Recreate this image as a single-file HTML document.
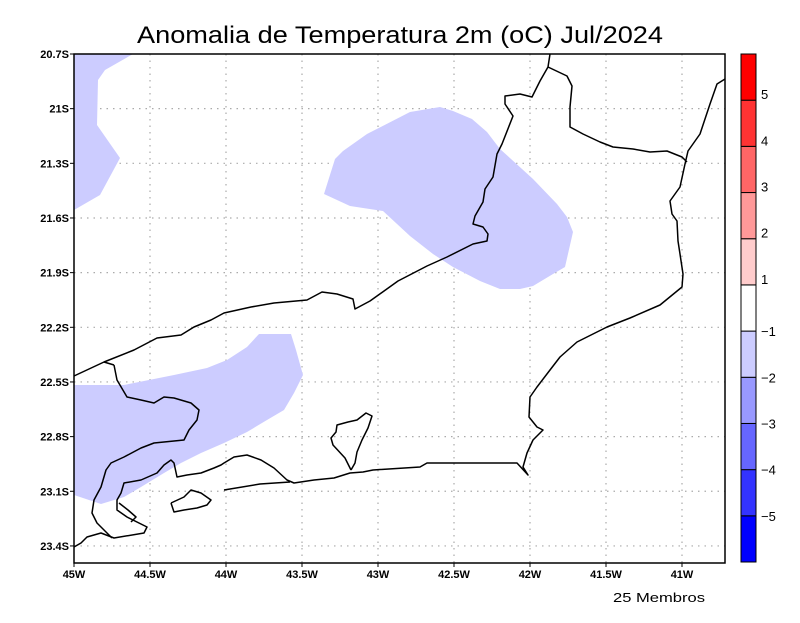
<!DOCTYPE html>
<html><head><meta charset="utf-8"><style>
body{margin:0;background:#fff;width:800px;height:618px;overflow:hidden}
svg text{font-family:"Liberation Sans",sans-serif}
</style></head><body>
<svg id="chart" width="800" height="618" viewBox="0 0 800 618" xmlns="http://www.w3.org/2000/svg">
<text x="400" y="43" text-anchor="middle" font-size="24" textLength="526" lengthAdjust="spacingAndGlyphs" fill="#000">Anomalia de Temperatura 2m (oC) Jul/2024</text>
<text x="613" y="602" font-size="13" textLength="92" lengthAdjust="spacingAndGlyphs" fill="#000">25 Membros</text>
<g id="grid"></g><g id="shade"></g><g id="coast"></g><g id="axes"></g><g id="cbar"></g>
</svg>
<script>
const lonTicks=[-45,-44.5,-44,-43.5,-43,-42.5,-42,-41.5,-41];
const lonLabels=["45W","44.5W","44W","43.5W","43W","42.5W","42W","41.5W","41W"];
const latTicks=[-20.7,-21,-21.3,-21.6,-21.9,-22.2,-22.5,-22.8,-23.1,-23.4];
const latLabels=["20.7S","21S","21.3S","21.6S","21.9S","22.2S","22.5S","22.8S","23.1S","23.4S"];
const cbarColors=["#0000ff","#3333ff","#6666ff","#9999ff","#ccccff","#ffffff","#ffcccc","#ff9999","#ff6666","#ff3333","#ff0000"];
const cbarLabels=["-5","-4","-3","-2","-1","1","2","3","4","5"];
const shadeColor="#ccccff";
// anomaly < -1 regions (pixel-traced contours of the map)
const regionA=[[74,54],[133,54],[105,70],[98,80],[97,125],[120,158],[100,195],[74,210]];
const regionB=[[324,194],[335,159],[343,151],[367,134],[410,112],[440,107],[453,111],[472,119],[487,132],[500,149],[533,179],[557,204],[567,217],[573,232],[565,267],[553,274],[533,286],[520,289],[500,289],[480,281],[453,267],[433,254],[410,236],[383,211],[350,206]];
const regionC=[[74,385],[124,385],[174,375],[207,368],[227,360],[247,347],[259,334],[291,334],[296,350],[303,375],[294,393],[284,410],[267,420],[247,432],[224,443],[201,453],[181,463],[164,473],[141,487],[124,497],[101,504],[74,495]];

const X0=74,X1=725,Y0=54,Y1=563;
const xS=lon=>X0+(lon+45)*152;
const yS=lat=>Y0+(-20.7-lat)*182.2;
const NS="http://www.w3.org/2000/svg";
function mk(tag,attrs,parent){const e=document.createElementNS(NS,tag);for(const k in attrs)e.setAttribute(k,attrs[k]);parent.appendChild(e);return e;}
const grid=document.getElementById('grid'),axes=document.getElementById('axes'),shade=document.getElementById('shade'),coast=document.getElementById('coast'),cbar=document.getElementById('cbar');

[regionA,regionB,regionC].forEach((r,i)=>{
 const p=mk('polygon',{points:r.map(q=>q.join(',')).join(' '),fill:shadeColor},shade);
 
 
});

lonTicks.forEach((v,i)=>{
 const x=xS(v);
 if(i>0){const g=mk('line',{x1:x,y1:Y0,x2:x,y2:Y1,stroke:'#aaa','stroke-width':1.2,'stroke-dasharray':'1.5,5'},grid);
 }
 mk('line',{x1:x,y1:Y1,x2:x,y2:Y1+4,stroke:'#000','stroke-width':1},axes);
 const t=mk('text',{x:x,y:Y1+15,'text-anchor':'middle','font-size':11,'font-weight':'bold'},axes);t.textContent=lonLabels[i];
 
});
latTicks.forEach((v,i)=>{
 const y=yS(v);
 if(i>0){const g=mk('line',{x1:X0,y1:y,x2:X1,y2:y,stroke:'#aaa','stroke-width':1.2,'stroke-dasharray':'1.5,5'},grid);
 }
 mk('line',{x1:X0-4,y1:y,x2:X0,y2:y,stroke:'#000','stroke-width':1},axes);
 const t=mk('text',{x:X0-5,y:y+4,'text-anchor':'end','font-size':11,'font-weight':'bold'},axes);t.textContent=latLabels[i];
 
});

const lines=[
 [[550,54],[548,67],[540,81],[532,97],[520,94],[505,96],[505,104],[513,116],[502,144],[497,154],[493,177],[485,189],[483,202],[475,216],[473,224],[483,227],[488,234],[487,241],[473,244],[447,257],[427,266],[398,281],[370,301],[355,309],[353,299],[337,294],[322,292],[307,300],[274,303],[251,307],[224,313],[211,320],[194,327],[181,335],[157,338],[134,350],[104,362],[74,376]],
 [[548,67],[567,76],[572,86],[570,107],[570,127],[583,134],[600,142],[613,147],[633,149],[650,152],[667,151],[682,157],[687,162]],
 [[725,79],[717,84],[710,104],[700,134],[688,151],[685,164],[680,187],[670,201],[672,214],[677,221],[678,241],[680,254],[683,274],[682,287],[660,305],[630,318],[607,327],[577,342],[560,357],[550,370],[537,387],[530,397],[529,417],[537,427],[543,430],[533,440],[527,453],[523,467],[528,475],[517,463],[463,463],[427,463],[420,467],[373,470],[363,472],[350,473],[334,478],[314,480],[294,483],[287,480],[274,468],[261,460],[247,455],[234,457],[224,463],[221,465],[214,468],[201,473],[187,475],[177,477],[174,463],[171,460],[164,465],[157,473],[141,480],[124,483],[121,493],[117,500],[117,510],[127,517],[147,527],[144,533],[114,538],[101,533],[87,537],[81,543],[74,547]],
 [[114,365],[117,380],[127,397],[141,400],[154,403],[164,397],[174,398],[191,403],[199,410],[197,420],[189,430],[184,440],[154,443],[141,448],[124,457],[111,463],[106,470],[101,487],[94,500],[92,513],[97,523],[107,533],[112,538]],
 [[104,362],[114,365]],
 [[224,490],[260,484],[290,482]],
 [[351,470],[345,458],[333,445],[331,438],[336,432],[337,425],[348,422],[357,420],[366,413],[372,416],[368,428],[362,440],[357,452],[355,463],[351,470]],
 [[171,503],[184,497],[191,490],[201,493],[211,500],[207,505],[197,508],[184,510],[174,512],[171,503]],
 [[119,503],[128,510],[136,517],[131,522]]
];
lines.forEach((l,i)=>{
 const p=mk('polyline',{points:l.map(q=>q.join(',')).join(' '),fill:'none',stroke:'#000','stroke-width':1.5,'stroke-linejoin':'round'},coast);
 
 
});

const fr=mk('rect',{x:X0,y:Y0,width:X1-X0,height:Y1-Y0,fill:'none',stroke:'#000','stroke-width':1.5},axes);


const CX=741,CW=15,CT=54,CB=562,seg=(CB-CT)/cbarColors.length;
cbarColors.forEach((c,i)=>{
 const y=CB-(i+1)*seg;
 const r=mk('rect',{x:CX,y:y,width:CW,height:seg,fill:c,stroke:'#000','stroke-width':1},cbar);
 
});
cbarLabels.forEach((l,i)=>{
 const y=CB-(i+1)*seg;
 const t=mk('text',{x:CX+CW+5,y:(i<5?y+5:y-1),'font-size':13},cbar);
 t.textContent=l.replace('-','\u2212');
 
});
</script>
</body></html>
